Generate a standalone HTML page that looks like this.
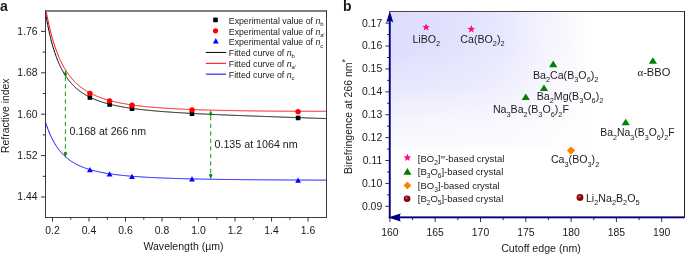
<!DOCTYPE html><html><head><meta charset="utf-8"><style>html,body{margin:0;padding:0;background:#fff;}svg{display:block;will-change:transform;}</style></head><body>
<svg width="685" height="254" viewBox="0 0 685 254" font-family="Liberation Sans, sans-serif">
<defs><linearGradient id="gh" x1="0" y1="0" x2="1" y2="0"><stop offset="0" stop-color="#fff" stop-opacity="1"/><stop offset="0.3" stop-color="#fff" stop-opacity="0.88"/><stop offset="0.56" stop-color="#fff" stop-opacity="0.7"/><stop offset="0.77" stop-color="#fff" stop-opacity="0.37"/><stop offset="0.92" stop-color="#fff" stop-opacity="0.19"/><stop offset="1" stop-color="#fff" stop-opacity="0.07"/></linearGradient><linearGradient id="gv" x1="0" y1="0" x2="0" y2="1"><stop offset="0" stop-color="#fff" stop-opacity="1"/><stop offset="0.28" stop-color="#fff" stop-opacity="0.95"/><stop offset="0.4" stop-color="#fff" stop-opacity="0.82"/><stop offset="0.54" stop-color="#fff" stop-opacity="0.7"/><stop offset="0.69" stop-color="#fff" stop-opacity="0.45"/><stop offset="0.79" stop-color="#fff" stop-opacity="0.3"/><stop offset="0.95" stop-color="#fff" stop-opacity="0.18"/><stop offset="1" stop-color="#fff" stop-opacity="0.12"/></linearGradient><mask id="mh" maskUnits="userSpaceOnUse" x="385" y="8" width="210" height="150"><rect x="390" y="12" width="195.5" height="136.5" fill="url(#gh)"/></mask><mask id="mv" maskUnits="userSpaceOnUse" x="385" y="8" width="210" height="150"><rect x="390" y="12" width="195.5" height="136.5" fill="url(#gv)"/></mask><radialGradient id="ball" cx="0.5" cy="0.5" r="0.5" fx="0.36" fy="0.33"><stop offset="0" stop-color="#f4d0d0"/><stop offset="0.3" stop-color="#b01010"/><stop offset="0.75" stop-color="#900000"/><stop offset="1" stop-color="#6a0000"/></radialGradient></defs>
<text x="0" y="10.5" font-size="14" font-weight="bold" fill="#1c1a1a">a</text>
<clipPath id="ca"><rect x="45" y="11" width="282" height="207"/></clipPath>
<path d="M44.29,4.94 L44.76,8.08 L45.24,11.08 L45.71,13.97 L46.18,16.75 L46.66,19.41 L47.13,21.98 L47.60,24.44 L48.08,26.82 L48.55,29.11 L49.03,31.31 L49.50,33.43 L49.97,35.47 L50.45,37.45 L50.92,39.35 L51.40,41.19 L51.87,42.96 L52.34,44.67 L52.82,46.32 L53.29,47.92 L53.77,49.47 L54.24,50.96 L54.71,52.41 L55.19,53.81 L55.66,55.16 L56.13,56.47 L56.61,57.74 L57.08,58.97 L57.56,60.16 L58.03,61.32 L58.50,62.44 L58.98,63.53 L59.45,64.58 L59.93,65.61 L60.40,66.60 L60.87,67.57 L61.35,68.50 L61.82,69.42 L62.30,70.30 L62.77,71.16 L63.24,72.00 L63.72,72.81 L64.19,73.60 L64.66,74.38 L65.14,75.13 L65.61,75.86 L66.09,76.57 L66.56,77.26 L67.03,77.93 L67.51,78.59 L67.98,79.23 L68.46,79.86 L68.93,80.46 L69.40,81.06 L69.88,81.64 L70.35,82.20 L70.83,82.75 L71.30,83.29 L71.77,83.81 L72.25,84.33 L72.72,84.83 L73.20,85.32 L73.67,85.79 L74.14,86.26 L74.62,86.72 L75.09,87.16 L75.56,87.60 L76.04,88.02 L76.51,88.44 L76.99,88.85 L77.46,89.25 L77.93,89.64 L78.41,90.02 L78.88,90.39 L79.36,90.76 L79.83,91.11 L80.30,91.46 L80.78,91.81 L81.25,92.14 L81.73,92.47 L82.20,92.79 L82.67,93.11 L83.15,93.42 L83.62,93.72 L84.09,94.02 L84.57,94.31 L85.04,94.60 L85.52,94.88 L85.99,95.15 L86.46,95.42 L86.94,95.68 L87.41,95.94 L87.89,96.20 L88.36,96.45 L88.83,96.69 L89.31,96.93 L89.78,97.17 L90.26,97.40 L90.73,97.63 L91.20,97.85 L91.68,98.07 L92.15,98.29 L92.62,98.50 L93.10,98.71 L93.57,98.91 L94.05,99.12 L94.52,99.31 L94.99,99.51 L95.47,99.70 L95.94,99.89 L96.42,100.07 L96.89,100.25 L97.36,100.43 L97.84,100.61 L98.31,100.78 L98.79,100.95 L99.26,101.12 L99.73,101.28 L100.21,101.44 L100.68,101.60 L101.16,101.76 L101.63,101.91 L102.10,102.07 L102.58,102.22 L103.05,102.36 L103.52,102.51 L104.00,102.65 L104.47,102.79 L104.95,102.93 L105.42,103.07 L105.89,103.20 L106.37,103.33 L106.84,103.47 L107.32,103.59 L107.79,103.72 L108.26,103.85 L108.74,103.97 L109.21,104.09 L109.69,104.21 L110.16,104.33 L110.63,104.44 L111.11,104.56 L111.58,104.67 L112.05,104.78 L112.53,104.89 L113.00,105.00 L113.48,105.11 L113.95,105.22 L114.42,105.32 L114.90,105.42 L115.37,105.52 L115.85,105.62 L116.32,105.72 L116.79,105.82 L117.27,105.92 L117.74,106.01 L118.22,106.11 L118.69,106.20 L119.16,106.29 L119.64,106.38 L120.11,106.47 L120.58,106.56 L121.06,106.64 L121.53,106.73 L122.01,106.81 L122.48,106.90 L122.95,106.98 L123.43,107.06 L123.90,107.14 L124.38,107.22 L124.85,107.30 L125.32,107.38 L125.80,107.46 L126.27,107.53 L126.75,107.61 L127.22,107.68 L127.69,107.76 L128.17,107.83 L128.64,107.90 L129.12,107.97 L129.59,108.04 L130.06,108.11 L130.54,108.18 L131.01,108.25 L131.48,108.32 L131.96,108.38 L132.43,108.45 L132.91,108.51 L133.38,108.58 L133.85,108.64 L134.33,108.71 L134.80,108.77 L135.28,108.83 L135.75,108.89 L136.22,108.95 L136.70,109.01 L137.17,109.07 L137.65,109.13 L138.12,109.19 L138.59,109.24 L139.07,109.30 L139.54,109.36 L140.01,109.41 L140.49,109.47 L140.96,109.52 L141.44,109.58 L141.91,109.63 L142.38,109.68 L142.86,109.74 L143.33,109.79 L143.81,109.84 L144.28,109.89 L144.75,109.94 L145.23,109.99 L145.70,110.04 L146.18,110.09 L146.65,110.14 L147.12,110.19 L147.60,110.23 L148.07,110.28 L148.54,110.33 L149.02,110.38 L149.49,110.42 L149.97,110.47 L150.44,110.51 L150.91,110.56 L151.39,110.60 L151.86,110.65 L152.34,110.69 L152.81,110.73 L153.28,110.78 L153.76,110.82 L154.23,110.86 L154.71,110.90 L155.18,110.95 L155.65,110.99 L156.13,111.03 L156.60,111.07 L157.08,111.11 L157.55,111.15 L158.02,111.19 L158.50,111.23 L158.97,111.27 L159.44,111.31 L159.92,111.35 L160.39,111.38 L160.87,111.42 L161.34,111.46 L161.81,111.50 L162.29,111.53 L162.76,111.57 L163.24,111.61 L163.71,111.64 L164.18,111.68 L164.66,111.72 L165.13,111.75 L165.61,111.79 L166.08,111.82 L166.55,111.86 L167.03,111.89 L167.50,111.92 L167.97,111.96 L168.45,111.99 L168.92,112.03 L169.40,112.06 L169.87,112.09 L170.34,112.12 L170.82,112.16 L171.29,112.19 L171.77,112.22 L172.24,112.25 L172.71,112.29 L173.19,112.32 L173.66,112.35 L174.14,112.38 L174.61,112.41 L175.08,112.44 L175.56,112.47 L176.03,112.50 L176.50,112.53 L176.98,112.56 L177.45,112.59 L177.93,112.62 L178.40,112.65 L178.87,112.68 L179.35,112.71 L179.82,112.74 L180.30,112.77 L180.77,112.80 L181.24,112.83 L181.72,112.85 L182.19,112.88 L182.67,112.91 L183.14,112.94 L183.61,112.97 L184.09,112.99 L184.56,113.02 L185.04,113.05 L185.51,113.07 L185.98,113.10 L186.46,113.13 L186.93,113.16 L187.40,113.18 L187.88,113.21 L188.35,113.23 L188.83,113.26 L189.30,113.29 L189.77,113.31 L190.25,113.34 L190.72,113.36 L191.20,113.39 L191.67,113.41 L192.14,113.44 L192.62,113.46 L193.09,113.49 L193.57,113.51 L194.04,113.54 L194.51,113.56 L194.99,113.59 L195.46,113.61 L195.93,113.64 L196.41,113.66 L196.88,113.69 L197.36,113.71 L197.83,113.73 L198.30,113.76 L198.78,113.78 L199.25,113.80 L199.73,113.83 L200.20,113.85 L200.67,113.87 L201.15,113.90 L201.62,113.92 L202.10,113.94 L202.57,113.97 L203.04,113.99 L203.52,114.01 L203.99,114.03 L204.46,114.06 L204.94,114.08 L205.41,114.10 L205.89,114.12 L206.36,114.15 L206.83,114.17 L207.31,114.19 L207.78,114.21 L208.26,114.23 L208.73,114.26 L209.20,114.28 L209.68,114.30 L210.15,114.32 L210.63,114.34 L211.10,114.36 L211.57,114.38 L212.05,114.41 L212.52,114.43 L213.00,114.45 L213.47,114.47 L213.94,114.49 L214.42,114.51 L214.89,114.53 L215.36,114.55 L215.84,114.57 L216.31,114.59 L216.79,114.61 L217.26,114.63 L217.73,114.65 L218.21,114.68 L218.68,114.70 L219.16,114.72 L219.63,114.74 L220.10,114.76 L220.58,114.78 L221.05,114.80 L221.53,114.82 L222.00,114.84 L222.47,114.86 L222.95,114.88 L223.42,114.89 L223.89,114.91 L224.37,114.93 L224.84,114.95 L225.32,114.97 L225.79,114.99 L226.26,115.01 L226.74,115.03 L227.21,115.05 L227.69,115.07 L228.16,115.09 L228.63,115.11 L229.11,115.13 L229.58,115.15 L230.06,115.17 L230.53,115.18 L231.00,115.20 L231.48,115.22 L231.95,115.24 L232.42,115.26 L232.90,115.28 L233.37,115.30 L233.85,115.32 L234.32,115.33 L234.79,115.35 L235.27,115.37 L235.74,115.39 L236.22,115.41 L236.69,115.43 L237.16,115.45 L237.64,115.46 L238.11,115.48 L238.59,115.50 L239.06,115.52 L239.53,115.54 L240.01,115.56 L240.48,115.57 L240.96,115.59 L241.43,115.61 L241.90,115.63 L242.38,115.65 L242.85,115.66 L243.32,115.68 L243.80,115.70 L244.27,115.72 L244.75,115.73 L245.22,115.75 L245.69,115.77 L246.17,115.79 L246.64,115.81 L247.12,115.82 L247.59,115.84 L248.06,115.86 L248.54,115.88 L249.01,115.89 L249.49,115.91 L249.96,115.93 L250.43,115.95 L250.91,115.96 L251.38,115.98 L251.85,116.00 L252.33,116.02 L252.80,116.03 L253.28,116.05 L253.75,116.07 L254.22,116.09 L254.70,116.10 L255.17,116.12 L255.65,116.14 L256.12,116.16 L256.59,116.17 L257.07,116.19 L257.54,116.21 L258.02,116.22 L258.49,116.24 L258.96,116.26 L259.44,116.28 L259.91,116.29 L260.39,116.31 L260.86,116.33 L261.33,116.34 L261.81,116.36 L262.28,116.38 L262.75,116.39 L263.23,116.41 L263.70,116.43 L264.18,116.45 L264.65,116.46 L265.12,116.48 L265.60,116.50 L266.07,116.51 L266.55,116.53 L267.02,116.55 L267.49,116.56 L267.97,116.58 L268.44,116.60 L268.92,116.61 L269.39,116.63 L269.86,116.65 L270.34,116.66 L270.81,116.68 L271.28,116.70 L271.76,116.71 L272.23,116.73 L272.71,116.75 L273.18,116.76 L273.65,116.78 L274.13,116.80 L274.60,116.81 L275.08,116.83 L275.55,116.85 L276.02,116.86 L276.50,116.88 L276.97,116.90 L277.45,116.91 L277.92,116.93 L278.39,116.95 L278.87,116.96 L279.34,116.98 L279.81,117.00 L280.29,117.01 L280.76,117.03 L281.24,117.05 L281.71,117.06 L282.18,117.08 L282.66,117.10 L283.13,117.11 L283.61,117.13 L284.08,117.15 L284.55,117.16 L285.03,117.18 L285.50,117.19 L285.98,117.21 L286.45,117.23 L286.92,117.24 L287.40,117.26 L287.87,117.28 L288.35,117.29 L288.82,117.31 L289.29,117.33 L289.77,117.34 L290.24,117.36 L290.71,117.38 L291.19,117.39 L291.66,117.41 L292.14,117.42 L292.61,117.44 L293.08,117.46 L293.56,117.47 L294.03,117.49 L294.51,117.51 L294.98,117.52 L295.45,117.54 L295.93,117.56 L296.40,117.57 L296.88,117.59 L297.35,117.60 L297.82,117.62 L298.30,117.64 L298.77,117.65 L299.24,117.67 L299.72,117.69 L300.19,117.70 L300.67,117.72 L301.14,117.74 L301.61,117.75 L302.09,117.77 L302.56,117.78 L303.04,117.80 L303.51,117.82 L303.98,117.83 L304.46,117.85 L304.93,117.87 L305.41,117.88 L305.88,117.90 L306.35,117.92 L306.83,117.93 L307.30,117.95 L307.77,117.96 L308.25,117.98 L308.72,118.00 L309.20,118.01 L309.67,118.03 L310.14,118.05 L310.62,118.06 L311.09,118.08 L311.57,118.10 L312.04,118.11 L312.51,118.13 L312.99,118.14 L313.46,118.16 L313.94,118.18 L314.41,118.19 L314.88,118.21 L315.36,118.23 L315.83,118.24 L316.31,118.26 L316.78,118.28 L317.25,118.29 L317.73,118.31 L318.20,118.33 L318.67,118.34 L319.15,118.36 L319.62,118.37 L320.10,118.39 L320.57,118.41 L321.04,118.42 L321.52,118.44 L321.99,118.46 L322.47,118.47 L322.94,118.49 L323.41,118.51 L323.89,118.52 L324.36,118.54 L324.84,118.56 L325.31,118.57 L325.78,118.59 L326.26,118.60 L326.73,118.62 L327.20,118.64 L327.68,118.65 L328.15,118.67" fill="none" stroke="#000" stroke-width="1" clip-path="url(#ca)"/>
<path d="M44.29,0.31 L44.76,3.19 L45.24,5.98 L45.71,8.67 L46.18,11.27 L46.66,13.78 L47.13,16.21 L47.60,18.55 L48.08,20.82 L48.55,23.01 L49.03,25.13 L49.50,27.19 L49.97,29.17 L50.45,31.10 L50.92,32.96 L51.40,34.77 L51.87,36.51 L52.34,38.21 L52.82,39.85 L53.29,41.44 L53.77,42.98 L54.24,44.48 L54.71,45.93 L55.19,47.34 L55.66,48.71 L56.13,50.03 L56.61,51.32 L57.08,52.57 L57.56,53.79 L58.03,54.97 L58.50,56.12 L58.98,57.24 L59.45,58.32 L59.93,59.38 L60.40,60.41 L60.87,61.41 L61.35,62.38 L61.82,63.32 L62.30,64.25 L62.77,65.14 L63.24,66.02 L63.72,66.87 L64.19,67.70 L64.66,68.50 L65.14,69.29 L65.61,70.06 L66.09,70.81 L66.56,71.54 L67.03,72.25 L67.51,72.94 L67.98,73.62 L68.46,74.28 L68.93,74.93 L69.40,75.56 L69.88,76.17 L70.35,76.77 L70.83,77.36 L71.30,77.93 L71.77,78.49 L72.25,79.04 L72.72,79.58 L73.20,80.10 L73.67,80.61 L74.14,81.11 L74.62,81.60 L75.09,82.08 L75.56,82.54 L76.04,83.00 L76.51,83.45 L76.99,83.89 L77.46,84.32 L77.93,84.74 L78.41,85.15 L78.88,85.55 L79.36,85.94 L79.83,86.33 L80.30,86.71 L80.78,87.08 L81.25,87.44 L81.73,87.79 L82.20,88.14 L82.67,88.48 L83.15,88.82 L83.62,89.15 L84.09,89.47 L84.57,89.78 L85.04,90.09 L85.52,90.40 L85.99,90.70 L86.46,90.99 L86.94,91.27 L87.41,91.56 L87.89,91.83 L88.36,92.10 L88.83,92.37 L89.31,92.63 L89.78,92.89 L90.26,93.14 L90.73,93.38 L91.20,93.63 L91.68,93.87 L92.15,94.10 L92.62,94.33 L93.10,94.56 L93.57,94.78 L94.05,95.00 L94.52,95.21 L94.99,95.42 L95.47,95.63 L95.94,95.83 L96.42,96.03 L96.89,96.23 L97.36,96.42 L97.84,96.61 L98.31,96.80 L98.79,96.99 L99.26,97.17 L99.73,97.34 L100.21,97.52 L100.68,97.69 L101.16,97.86 L101.63,98.03 L102.10,98.19 L102.58,98.36 L103.05,98.51 L103.52,98.67 L104.00,98.83 L104.47,98.98 L104.95,99.13 L105.42,99.27 L105.89,99.42 L106.37,99.56 L106.84,99.70 L107.32,99.84 L107.79,99.98 L108.26,100.11 L108.74,100.24 L109.21,100.37 L109.69,100.50 L110.16,100.63 L110.63,100.75 L111.11,100.88 L111.58,101.00 L112.05,101.12 L112.53,101.24 L113.00,101.35 L113.48,101.47 L113.95,101.58 L114.42,101.69 L114.90,101.80 L115.37,101.91 L115.85,102.01 L116.32,102.12 L116.79,102.22 L117.27,102.32 L117.74,102.43 L118.22,102.52 L118.69,102.62 L119.16,102.72 L119.64,102.82 L120.11,102.91 L120.58,103.00 L121.06,103.09 L121.53,103.18 L122.01,103.27 L122.48,103.36 L122.95,103.45 L123.43,103.53 L123.90,103.62 L124.38,103.70 L124.85,103.78 L125.32,103.87 L125.80,103.95 L126.27,104.03 L126.75,104.10 L127.22,104.18 L127.69,104.26 L128.17,104.33 L128.64,104.41 L129.12,104.48 L129.59,104.55 L130.06,104.63 L130.54,104.70 L131.01,104.77 L131.48,104.83 L131.96,104.90 L132.43,104.97 L132.91,105.04 L133.38,105.10 L133.85,105.17 L134.33,105.23 L134.80,105.30 L135.28,105.36 L135.75,105.42 L136.22,105.48 L136.70,105.54 L137.17,105.60 L137.65,105.66 L138.12,105.72 L138.59,105.78 L139.07,105.83 L139.54,105.89 L140.01,105.95 L140.49,106.00 L140.96,106.05 L141.44,106.11 L141.91,106.16 L142.38,106.21 L142.86,106.27 L143.33,106.32 L143.81,106.37 L144.28,106.42 L144.75,106.47 L145.23,106.52 L145.70,106.57 L146.18,106.61 L146.65,106.66 L147.12,106.71 L147.60,106.75 L148.07,106.80 L148.54,106.85 L149.02,106.89 L149.49,106.94 L149.97,106.98 L150.44,107.02 L150.91,107.07 L151.39,107.11 L151.86,107.15 L152.34,107.19 L152.81,107.23 L153.28,107.27 L153.76,107.31 L154.23,107.35 L154.71,107.39 L155.18,107.43 L155.65,107.47 L156.13,107.51 L156.60,107.55 L157.08,107.58 L157.55,107.62 L158.02,107.66 L158.50,107.69 L158.97,107.73 L159.44,107.77 L159.92,107.80 L160.39,107.84 L160.87,107.87 L161.34,107.90 L161.81,107.94 L162.29,107.97 L162.76,108.00 L163.24,108.04 L163.71,108.07 L164.18,108.10 L164.66,108.13 L165.13,108.17 L165.61,108.20 L166.08,108.23 L166.55,108.26 L167.03,108.29 L167.50,108.32 L167.97,108.35 L168.45,108.38 L168.92,108.41 L169.40,108.43 L169.87,108.46 L170.34,108.49 L170.82,108.52 L171.29,108.55 L171.77,108.57 L172.24,108.60 L172.71,108.63 L173.19,108.65 L173.66,108.68 L174.14,108.71 L174.61,108.73 L175.08,108.76 L175.56,108.78 L176.03,108.81 L176.50,108.83 L176.98,108.86 L177.45,108.88 L177.93,108.91 L178.40,108.93 L178.87,108.95 L179.35,108.98 L179.82,109.00 L180.30,109.02 L180.77,109.05 L181.24,109.07 L181.72,109.09 L182.19,109.11 L182.67,109.14 L183.14,109.16 L183.61,109.18 L184.09,109.20 L184.56,109.22 L185.04,109.24 L185.51,109.26 L185.98,109.28 L186.46,109.30 L186.93,109.32 L187.40,109.34 L187.88,109.36 L188.35,109.38 L188.83,109.40 L189.30,109.42 L189.77,109.44 L190.25,109.46 L190.72,109.48 L191.20,109.50 L191.67,109.52 L192.14,109.53 L192.62,109.55 L193.09,109.57 L193.57,109.59 L194.04,109.61 L194.51,109.62 L194.99,109.64 L195.46,109.66 L195.93,109.67 L196.41,109.69 L196.88,109.71 L197.36,109.72 L197.83,109.74 L198.30,109.76 L198.78,109.77 L199.25,109.79 L199.73,109.80 L200.20,109.82 L200.67,109.84 L201.15,109.85 L201.62,109.87 L202.10,109.88 L202.57,109.90 L203.04,109.91 L203.52,109.93 L203.99,109.94 L204.46,109.95 L204.94,109.97 L205.41,109.98 L205.89,110.00 L206.36,110.01 L206.83,110.02 L207.31,110.04 L207.78,110.05 L208.26,110.06 L208.73,110.08 L209.20,110.09 L209.68,110.10 L210.15,110.12 L210.63,110.13 L211.10,110.14 L211.57,110.16 L212.05,110.17 L212.52,110.18 L213.00,110.19 L213.47,110.20 L213.94,110.22 L214.42,110.23 L214.89,110.24 L215.36,110.25 L215.84,110.26 L216.31,110.28 L216.79,110.29 L217.26,110.30 L217.73,110.31 L218.21,110.32 L218.68,110.33 L219.16,110.34 L219.63,110.35 L220.10,110.36 L220.58,110.37 L221.05,110.39 L221.53,110.40 L222.00,110.41 L222.47,110.42 L222.95,110.43 L223.42,110.44 L223.89,110.45 L224.37,110.46 L224.84,110.47 L225.32,110.48 L225.79,110.49 L226.26,110.50 L226.74,110.50 L227.21,110.51 L227.69,110.52 L228.16,110.53 L228.63,110.54 L229.11,110.55 L229.58,110.56 L230.06,110.57 L230.53,110.58 L231.00,110.59 L231.48,110.60 L231.95,110.60 L232.42,110.61 L232.90,110.62 L233.37,110.63 L233.85,110.64 L234.32,110.65 L234.79,110.65 L235.27,110.66 L235.74,110.67 L236.22,110.68 L236.69,110.69 L237.16,110.69 L237.64,110.70 L238.11,110.71 L238.59,110.72 L239.06,110.72 L239.53,110.73 L240.01,110.74 L240.48,110.75 L240.96,110.75 L241.43,110.76 L241.90,110.77 L242.38,110.77 L242.85,110.78 L243.32,110.79 L243.80,110.80 L244.27,110.80 L244.75,110.81 L245.22,110.82 L245.69,110.82 L246.17,110.83 L246.64,110.83 L247.12,110.84 L247.59,110.85 L248.06,110.85 L248.54,110.86 L249.01,110.87 L249.49,110.87 L249.96,110.88 L250.43,110.88 L250.91,110.89 L251.38,110.90 L251.85,110.90 L252.33,110.91 L252.80,110.91 L253.28,110.92 L253.75,110.92 L254.22,110.93 L254.70,110.94 L255.17,110.94 L255.65,110.95 L256.12,110.95 L256.59,110.96 L257.07,110.96 L257.54,110.97 L258.02,110.97 L258.49,110.98 L258.96,110.98 L259.44,110.99 L259.91,110.99 L260.39,111.00 L260.86,111.00 L261.33,111.01 L261.81,111.01 L262.28,111.02 L262.75,111.02 L263.23,111.03 L263.70,111.03 L264.18,111.03 L264.65,111.04 L265.12,111.04 L265.60,111.05 L266.07,111.05 L266.55,111.06 L267.02,111.06 L267.49,111.06 L267.97,111.07 L268.44,111.07 L268.92,111.08 L269.39,111.08 L269.86,111.09 L270.34,111.09 L270.81,111.09 L271.28,111.10 L271.76,111.10 L272.23,111.10 L272.71,111.11 L273.18,111.11 L273.65,111.12 L274.13,111.12 L274.60,111.12 L275.08,111.13 L275.55,111.13 L276.02,111.13 L276.50,111.14 L276.97,111.14 L277.45,111.14 L277.92,111.15 L278.39,111.15 L278.87,111.15 L279.34,111.16 L279.81,111.16 L280.29,111.16 L280.76,111.16 L281.24,111.17 L281.71,111.17 L282.18,111.17 L282.66,111.18 L283.13,111.18 L283.61,111.18 L284.08,111.18 L284.55,111.19 L285.03,111.19 L285.50,111.19 L285.98,111.20 L286.45,111.20 L286.92,111.20 L287.40,111.20 L287.87,111.21 L288.35,111.21 L288.82,111.21 L289.29,111.21 L289.77,111.22 L290.24,111.22 L290.71,111.22 L291.19,111.22 L291.66,111.22 L292.14,111.23 L292.61,111.23 L293.08,111.23 L293.56,111.23 L294.03,111.24 L294.51,111.24 L294.98,111.24 L295.45,111.24 L295.93,111.24 L296.40,111.24 L296.88,111.25 L297.35,111.25 L297.82,111.25 L298.30,111.25 L298.77,111.25 L299.24,111.26 L299.72,111.26 L300.19,111.26 L300.67,111.26 L301.14,111.26 L301.61,111.26 L302.09,111.27 L302.56,111.27 L303.04,111.27 L303.51,111.27 L303.98,111.27 L304.46,111.27 L304.93,111.27 L305.41,111.28 L305.88,111.28 L306.35,111.28 L306.83,111.28 L307.30,111.28 L307.77,111.28 L308.25,111.28 L308.72,111.28 L309.20,111.29 L309.67,111.29 L310.14,111.29 L310.62,111.29 L311.09,111.29 L311.57,111.29 L312.04,111.29 L312.51,111.29 L312.99,111.29 L313.46,111.29 L313.94,111.30 L314.41,111.30 L314.88,111.30 L315.36,111.30 L315.83,111.30 L316.31,111.30 L316.78,111.30 L317.25,111.30 L317.73,111.30 L318.20,111.30 L318.67,111.30 L319.15,111.30 L319.62,111.30 L320.10,111.30 L320.57,111.30 L321.04,111.31 L321.52,111.31 L321.99,111.31 L322.47,111.31 L322.94,111.31 L323.41,111.31 L323.89,111.31 L324.36,111.31 L324.84,111.31 L325.31,111.31 L325.78,111.31 L326.26,111.31 L326.73,111.31 L327.20,111.31 L327.68,111.31 L328.15,111.31" fill="none" stroke="#ff0000" stroke-width="1" clip-path="url(#ca)"/>
<path d="M44.29,118.16 L44.76,119.76 L45.24,121.31 L45.71,122.80 L46.18,124.24 L46.66,125.63 L47.13,126.98 L47.60,128.28 L48.08,129.54 L48.55,130.76 L49.03,131.94 L49.50,133.07 L49.97,134.18 L50.45,135.25 L50.92,136.28 L51.40,137.28 L51.87,138.25 L52.34,139.19 L52.82,140.10 L53.29,140.99 L53.77,141.84 L54.24,142.68 L54.71,143.48 L55.19,144.26 L55.66,145.02 L56.13,145.76 L56.61,146.48 L57.08,147.17 L57.56,147.85 L58.03,148.50 L58.50,149.14 L58.98,149.76 L59.45,150.37 L59.93,150.95 L60.40,151.52 L60.87,152.08 L61.35,152.62 L61.82,153.14 L62.30,153.65 L62.77,154.15 L63.24,154.64 L63.72,155.11 L64.19,155.57 L64.66,156.02 L65.14,156.46 L65.61,156.88 L66.09,157.30 L66.56,157.70 L67.03,158.10 L67.51,158.49 L67.98,158.86 L68.46,159.23 L68.93,159.59 L69.40,159.94 L69.88,160.28 L70.35,160.61 L70.83,160.94 L71.30,161.26 L71.77,161.57 L72.25,161.87 L72.72,162.17 L73.20,162.46 L73.67,162.74 L74.14,163.02 L74.62,163.29 L75.09,163.56 L75.56,163.82 L76.04,164.07 L76.51,164.32 L76.99,164.56 L77.46,164.80 L77.93,165.04 L78.41,165.26 L78.88,165.49 L79.36,165.71 L79.83,165.92 L80.30,166.13 L80.78,166.34 L81.25,166.54 L81.73,166.74 L82.20,166.93 L82.67,167.12 L83.15,167.30 L83.62,167.49 L84.09,167.67 L84.57,167.84 L85.04,168.01 L85.52,168.18 L85.99,168.35 L86.46,168.51 L86.94,168.67 L87.41,168.82 L87.89,168.98 L88.36,169.13 L88.83,169.28 L89.31,169.42 L89.78,169.56 L90.26,169.70 L90.73,169.84 L91.20,169.98 L91.68,170.11 L92.15,170.24 L92.62,170.37 L93.10,170.49 L93.57,170.62 L94.05,170.74 L94.52,170.86 L94.99,170.97 L95.47,171.09 L95.94,171.20 L96.42,171.31 L96.89,171.42 L97.36,171.53 L97.84,171.64 L98.31,171.74 L98.79,171.84 L99.26,171.94 L99.73,172.04 L100.21,172.14 L100.68,172.24 L101.16,172.33 L101.63,172.42 L102.10,172.52 L102.58,172.61 L103.05,172.69 L103.52,172.78 L104.00,172.87 L104.47,172.95 L104.95,173.04 L105.42,173.12 L105.89,173.20 L106.37,173.28 L106.84,173.36 L107.32,173.43 L107.79,173.51 L108.26,173.58 L108.74,173.66 L109.21,173.73 L109.69,173.80 L110.16,173.87 L110.63,173.94 L111.11,174.01 L111.58,174.08 L112.05,174.14 L112.53,174.21 L113.00,174.27 L113.48,174.34 L113.95,174.40 L114.42,174.46 L114.90,174.52 L115.37,174.58 L115.85,174.64 L116.32,174.70 L116.79,174.76 L117.27,174.82 L117.74,174.87 L118.22,174.93 L118.69,174.98 L119.16,175.04 L119.64,175.09 L120.11,175.14 L120.58,175.20 L121.06,175.25 L121.53,175.30 L122.01,175.35 L122.48,175.40 L122.95,175.44 L123.43,175.49 L123.90,175.54 L124.38,175.59 L124.85,175.63 L125.32,175.68 L125.80,175.72 L126.27,175.77 L126.75,175.81 L127.22,175.85 L127.69,175.90 L128.17,175.94 L128.64,175.98 L129.12,176.02 L129.59,176.06 L130.06,176.10 L130.54,176.14 L131.01,176.18 L131.48,176.22 L131.96,176.26 L132.43,176.30 L132.91,176.33 L133.38,176.37 L133.85,176.41 L134.33,176.44 L134.80,176.48 L135.28,176.51 L135.75,176.55 L136.22,176.58 L136.70,176.62 L137.17,176.65 L137.65,176.68 L138.12,176.72 L138.59,176.75 L139.07,176.78 L139.54,176.81 L140.01,176.84 L140.49,176.88 L140.96,176.91 L141.44,176.94 L141.91,176.97 L142.38,177.00 L142.86,177.02 L143.33,177.05 L143.81,177.08 L144.28,177.11 L144.75,177.14 L145.23,177.17 L145.70,177.19 L146.18,177.22 L146.65,177.25 L147.12,177.27 L147.60,177.30 L148.07,177.33 L148.54,177.35 L149.02,177.38 L149.49,177.40 L149.97,177.43 L150.44,177.45 L150.91,177.48 L151.39,177.50 L151.86,177.52 L152.34,177.55 L152.81,177.57 L153.28,177.59 L153.76,177.62 L154.23,177.64 L154.71,177.66 L155.18,177.68 L155.65,177.71 L156.13,177.73 L156.60,177.75 L157.08,177.77 L157.55,177.79 L158.02,177.81 L158.50,177.83 L158.97,177.85 L159.44,177.87 L159.92,177.89 L160.39,177.91 L160.87,177.93 L161.34,177.95 L161.81,177.97 L162.29,177.99 L162.76,178.01 L163.24,178.03 L163.71,178.05 L164.18,178.06 L164.66,178.08 L165.13,178.10 L165.61,178.12 L166.08,178.14 L166.55,178.15 L167.03,178.17 L167.50,178.19 L167.97,178.21 L168.45,178.22 L168.92,178.24 L169.40,178.25 L169.87,178.27 L170.34,178.29 L170.82,178.30 L171.29,178.32 L171.77,178.34 L172.24,178.35 L172.71,178.37 L173.19,178.38 L173.66,178.40 L174.14,178.41 L174.61,178.43 L175.08,178.44 L175.56,178.46 L176.03,178.47 L176.50,178.48 L176.98,178.50 L177.45,178.51 L177.93,178.53 L178.40,178.54 L178.87,178.55 L179.35,178.57 L179.82,178.58 L180.30,178.59 L180.77,178.61 L181.24,178.62 L181.72,178.63 L182.19,178.65 L182.67,178.66 L183.14,178.67 L183.61,178.68 L184.09,178.70 L184.56,178.71 L185.04,178.72 L185.51,178.73 L185.98,178.75 L186.46,178.76 L186.93,178.77 L187.40,178.78 L187.88,178.79 L188.35,178.80 L188.83,178.82 L189.30,178.83 L189.77,178.84 L190.25,178.85 L190.72,178.86 L191.20,178.87 L191.67,178.88 L192.14,178.89 L192.62,178.90 L193.09,178.91 L193.57,178.92 L194.04,178.93 L194.51,178.94 L194.99,178.96 L195.46,178.97 L195.93,178.98 L196.41,178.99 L196.88,179.00 L197.36,179.00 L197.83,179.01 L198.30,179.02 L198.78,179.03 L199.25,179.04 L199.73,179.05 L200.20,179.06 L200.67,179.07 L201.15,179.08 L201.62,179.09 L202.10,179.10 L202.57,179.11 L203.04,179.12 L203.52,179.13 L203.99,179.13 L204.46,179.14 L204.94,179.15 L205.41,179.16 L205.89,179.17 L206.36,179.18 L206.83,179.18 L207.31,179.19 L207.78,179.20 L208.26,179.21 L208.73,179.22 L209.20,179.23 L209.68,179.23 L210.15,179.24 L210.63,179.25 L211.10,179.26 L211.57,179.26 L212.05,179.27 L212.52,179.28 L213.00,179.29 L213.47,179.29 L213.94,179.30 L214.42,179.31 L214.89,179.32 L215.36,179.32 L215.84,179.33 L216.31,179.34 L216.79,179.35 L217.26,179.35 L217.73,179.36 L218.21,179.37 L218.68,179.37 L219.16,179.38 L219.63,179.39 L220.10,179.39 L220.58,179.40 L221.05,179.41 L221.53,179.41 L222.00,179.42 L222.47,179.43 L222.95,179.43 L223.42,179.44 L223.89,179.44 L224.37,179.45 L224.84,179.46 L225.32,179.46 L225.79,179.47 L226.26,179.48 L226.74,179.48 L227.21,179.49 L227.69,179.49 L228.16,179.50 L228.63,179.51 L229.11,179.51 L229.58,179.52 L230.06,179.52 L230.53,179.53 L231.00,179.53 L231.48,179.54 L231.95,179.54 L232.42,179.55 L232.90,179.56 L233.37,179.56 L233.85,179.57 L234.32,179.57 L234.79,179.58 L235.27,179.58 L235.74,179.59 L236.22,179.59 L236.69,179.60 L237.16,179.60 L237.64,179.61 L238.11,179.61 L238.59,179.62 L239.06,179.62 L239.53,179.63 L240.01,179.63 L240.48,179.64 L240.96,179.64 L241.43,179.65 L241.90,179.65 L242.38,179.66 L242.85,179.66 L243.32,179.67 L243.80,179.67 L244.27,179.68 L244.75,179.68 L245.22,179.68 L245.69,179.69 L246.17,179.69 L246.64,179.70 L247.12,179.70 L247.59,179.71 L248.06,179.71 L248.54,179.71 L249.01,179.72 L249.49,179.72 L249.96,179.73 L250.43,179.73 L250.91,179.74 L251.38,179.74 L251.85,179.74 L252.33,179.75 L252.80,179.75 L253.28,179.76 L253.75,179.76 L254.22,179.76 L254.70,179.77 L255.17,179.77 L255.65,179.78 L256.12,179.78 L256.59,179.78 L257.07,179.79 L257.54,179.79 L258.02,179.79 L258.49,179.80 L258.96,179.80 L259.44,179.81 L259.91,179.81 L260.39,179.81 L260.86,179.82 L261.33,179.82 L261.81,179.82 L262.28,179.83 L262.75,179.83 L263.23,179.83 L263.70,179.84 L264.18,179.84 L264.65,179.84 L265.12,179.85 L265.60,179.85 L266.07,179.85 L266.55,179.86 L267.02,179.86 L267.49,179.86 L267.97,179.87 L268.44,179.87 L268.92,179.87 L269.39,179.88 L269.86,179.88 L270.34,179.88 L270.81,179.89 L271.28,179.89 L271.76,179.89 L272.23,179.89 L272.71,179.90 L273.18,179.90 L273.65,179.90 L274.13,179.91 L274.60,179.91 L275.08,179.91 L275.55,179.91 L276.02,179.92 L276.50,179.92 L276.97,179.92 L277.45,179.93 L277.92,179.93 L278.39,179.93 L278.87,179.93 L279.34,179.94 L279.81,179.94 L280.29,179.94 L280.76,179.94 L281.24,179.95 L281.71,179.95 L282.18,179.95 L282.66,179.95 L283.13,179.96 L283.61,179.96 L284.08,179.96 L284.55,179.96 L285.03,179.97 L285.50,179.97 L285.98,179.97 L286.45,179.97 L286.92,179.98 L287.40,179.98 L287.87,179.98 L288.35,179.98 L288.82,179.99 L289.29,179.99 L289.77,179.99 L290.24,179.99 L290.71,180.00 L291.19,180.00 L291.66,180.00 L292.14,180.00 L292.61,180.00 L293.08,180.01 L293.56,180.01 L294.03,180.01 L294.51,180.01 L294.98,180.01 L295.45,180.02 L295.93,180.02 L296.40,180.02 L296.88,180.02 L297.35,180.03 L297.82,180.03 L298.30,180.03 L298.77,180.03 L299.24,180.03 L299.72,180.04 L300.19,180.04 L300.67,180.04 L301.14,180.04 L301.61,180.04 L302.09,180.04 L302.56,180.05 L303.04,180.05 L303.51,180.05 L303.98,180.05 L304.46,180.05 L304.93,180.06 L305.41,180.06 L305.88,180.06 L306.35,180.06 L306.83,180.06 L307.30,180.06 L307.77,180.07 L308.25,180.07 L308.72,180.07 L309.20,180.07 L309.67,180.07 L310.14,180.07 L310.62,180.08 L311.09,180.08 L311.57,180.08 L312.04,180.08 L312.51,180.08 L312.99,180.08 L313.46,180.09 L313.94,180.09 L314.41,180.09 L314.88,180.09 L315.36,180.09 L315.83,180.09 L316.31,180.09 L316.78,180.10 L317.25,180.10 L317.73,180.10 L318.20,180.10 L318.67,180.10 L319.15,180.10 L319.62,180.11 L320.10,180.11 L320.57,180.11 L321.04,180.11 L321.52,180.11 L321.99,180.11 L322.47,180.11 L322.94,180.11 L323.41,180.12 L323.89,180.12 L324.36,180.12 L324.84,180.12 L325.31,180.12 L325.78,180.12 L326.26,180.12 L326.73,180.12 L327.20,180.13 L327.68,180.13 L328.15,180.13" fill="none" stroke="#0000ff" stroke-width="1" clip-path="url(#ca)"/>
<rect x="45" y="10" width="282" height="2" fill="#808080"/>
<rect x="45" y="10" width="1" height="208" fill="#3a3a3a"/>
<rect x="326" y="10" width="1" height="208" fill="#3a3a3a"/>
<rect x="45" y="217" width="282" height="1" fill="#3a3a3a"/>
<line x1="41.0" y1="197.00" x2="45.5" y2="197.00" stroke="#333" stroke-width="1"/>
<text x="37.6" y="200.40" font-size="10.4" text-anchor="end" fill="#1c1a1a">1.44</text>
<line x1="42.7" y1="176.30" x2="45.5" y2="176.30" stroke="#333" stroke-width="1"/>
<line x1="41.0" y1="155.60" x2="45.5" y2="155.60" stroke="#333" stroke-width="1"/>
<text x="37.6" y="159.00" font-size="10.4" text-anchor="end" fill="#1c1a1a">1.52</text>
<line x1="42.7" y1="134.90" x2="45.5" y2="134.90" stroke="#333" stroke-width="1"/>
<line x1="41.0" y1="114.20" x2="45.5" y2="114.20" stroke="#333" stroke-width="1"/>
<text x="37.6" y="117.60" font-size="10.4" text-anchor="end" fill="#1c1a1a">1.60</text>
<line x1="42.7" y1="93.50" x2="45.5" y2="93.50" stroke="#333" stroke-width="1"/>
<line x1="41.0" y1="72.80" x2="45.5" y2="72.80" stroke="#333" stroke-width="1"/>
<text x="37.6" y="76.20" font-size="10.4" text-anchor="end" fill="#1c1a1a">1.68</text>
<line x1="42.7" y1="52.10" x2="45.5" y2="52.10" stroke="#333" stroke-width="1"/>
<line x1="41.0" y1="31.40" x2="45.5" y2="31.40" stroke="#333" stroke-width="1"/>
<text x="37.6" y="34.80" font-size="10.4" text-anchor="end" fill="#1c1a1a">1.76</text>
<line x1="52.50" y1="217.5" x2="52.50" y2="221.5" stroke="#333" stroke-width="1"/>
<text x="52.50" y="234.0" font-size="10.4" text-anchor="middle" fill="#1c1a1a">0.2</text>
<line x1="70.76" y1="217.5" x2="70.76" y2="219.7" stroke="#333" stroke-width="1"/>
<line x1="89.01" y1="217.5" x2="89.01" y2="221.5" stroke="#333" stroke-width="1"/>
<text x="89.01" y="234.0" font-size="10.4" text-anchor="middle" fill="#1c1a1a">0.4</text>
<line x1="107.27" y1="217.5" x2="107.27" y2="219.7" stroke="#333" stroke-width="1"/>
<line x1="125.52" y1="217.5" x2="125.52" y2="221.5" stroke="#333" stroke-width="1"/>
<text x="125.52" y="234.0" font-size="10.4" text-anchor="middle" fill="#1c1a1a">0.6</text>
<line x1="143.78" y1="217.5" x2="143.78" y2="219.7" stroke="#333" stroke-width="1"/>
<line x1="162.03" y1="217.5" x2="162.03" y2="221.5" stroke="#333" stroke-width="1"/>
<text x="162.03" y="234.0" font-size="10.4" text-anchor="middle" fill="#1c1a1a">0.8</text>
<line x1="180.29" y1="217.5" x2="180.29" y2="219.7" stroke="#333" stroke-width="1"/>
<line x1="198.54" y1="217.5" x2="198.54" y2="221.5" stroke="#333" stroke-width="1"/>
<text x="198.54" y="234.0" font-size="10.4" text-anchor="middle" fill="#1c1a1a">1.0</text>
<line x1="216.80" y1="217.5" x2="216.80" y2="219.7" stroke="#333" stroke-width="1"/>
<line x1="235.05" y1="217.5" x2="235.05" y2="221.5" stroke="#333" stroke-width="1"/>
<text x="235.05" y="234.0" font-size="10.4" text-anchor="middle" fill="#1c1a1a">1.2</text>
<line x1="253.31" y1="217.5" x2="253.31" y2="219.7" stroke="#333" stroke-width="1"/>
<line x1="271.56" y1="217.5" x2="271.56" y2="221.5" stroke="#333" stroke-width="1"/>
<text x="271.56" y="234.0" font-size="10.4" text-anchor="middle" fill="#1c1a1a">1.4</text>
<line x1="289.82" y1="217.5" x2="289.82" y2="219.7" stroke="#333" stroke-width="1"/>
<line x1="308.07" y1="217.5" x2="308.07" y2="221.5" stroke="#333" stroke-width="1"/>
<text x="308.07" y="234.0" font-size="10.4" text-anchor="middle" fill="#1c1a1a">1.6</text>
<text x="183.5" y="249.8" font-size="10.55" text-anchor="middle" fill="#1c1a1a">Wavelength (µm)</text>
<text transform="translate(8.6,115.7) rotate(-90)" font-size="10.4" text-anchor="middle" fill="#1c1a1a">Refractive index</text>
<rect x="87.60" y="95.23" width="4.6" height="4.6" fill="#000"/>
<circle cx="89.90" cy="93.35" r="2.7" fill="#ff0000"/>
<path d="M89.90,167.00 L92.80,172.30 L87.00,172.30Z" fill="#0000ff"/>
<rect x="107.30" y="102.19" width="4.6" height="4.6" fill="#000"/>
<circle cx="109.60" cy="100.88" r="2.7" fill="#ff0000"/>
<path d="M109.60,171.19 L112.50,176.49 L106.70,176.49Z" fill="#0000ff"/>
<rect x="129.70" y="106.39" width="4.6" height="4.6" fill="#000"/>
<circle cx="132.00" cy="105.31" r="2.7" fill="#ff0000"/>
<path d="M132.00,173.66 L134.90,178.96 L129.10,178.96Z" fill="#0000ff"/>
<rect x="189.70" y="111.43" width="4.6" height="4.6" fill="#000"/>
<circle cx="192.00" cy="109.93" r="2.7" fill="#ff0000"/>
<path d="M192.00,176.29 L194.90,181.59 L189.10,181.59Z" fill="#0000ff"/>
<rect x="295.80" y="115.63" width="4.6" height="4.6" fill="#000"/>
<circle cx="298.10" cy="111.65" r="2.7" fill="#ff0000"/>
<path d="M298.10,177.43 L301.00,182.73 L295.20,182.73Z" fill="#0000ff"/>
<line x1="65.4" y1="76.8" x2="65.4" y2="155.4" stroke="#2ca02c" stroke-width="1.1" stroke-dasharray="4.2,3.32"/><path d="M65.4,70.2 L67.2,74.7 L65.4,76.0 L63.60000000000001,74.7Z" fill="#0a860a"/><path d="M65.4,157.4 L67.2,152.9 L65.4,151.6 L63.60000000000001,152.9Z" fill="#0a860a"/>
<line x1="210.7" y1="116.3" x2="210.7" y2="177.3" stroke="#2ca02c" stroke-width="1.1" stroke-dasharray="4.2,3.30"/><path d="M210.7,110.2 L212.5,114.7 L210.7,116.0 L208.89999999999998,114.7Z" fill="#0a860a"/><path d="M210.7,179.3 L212.5,174.8 L210.7,173.5 L208.89999999999998,174.8Z" fill="#0a860a"/>
<text x="69.5" y="134.7" font-size="10.6" fill="#1c1a1a">0.168 at 266 nm</text>
<text x="214.5" y="147.6" font-size="10.7" fill="#1c1a1a">0.135 at 1064 nm</text>
<rect x="213.2" y="17.60" width="4.6" height="4.6" fill="#000"/>
<circle cx="215.5" cy="30.80" r="2.6" fill="#ff0000"/>
<path d="M215.8,38.0 L218.7,43.5 L212.9,43.5Z" fill="#0000ff"/>
<line x1="205.8" y1="52.45" x2="226.1" y2="52.45" stroke="#000" stroke-width="1"/>
<line x1="205.8" y1="63.30" x2="226.1" y2="63.30" stroke="#ff0000" stroke-width="1"/>
<line x1="205.8" y1="74.15" x2="226.1" y2="74.15" stroke="#0000ff" stroke-width="1"/>
<text x="228.8" y="23.70" font-size="8.75" fill="#1c1a1a">Experimental value of <tspan font-style="italic">n</tspan><tspan font-size="6" dy="2.2">b</tspan></text>
<text x="228.8" y="34.60" font-size="8.75" fill="#1c1a1a">Experimental value of <tspan font-style="italic">n</tspan><tspan font-size="6" dy="2.2">a′</tspan></text>
<text x="228.8" y="45.40" font-size="8.75" fill="#1c1a1a">Experimental value of <tspan font-style="italic">n</tspan><tspan font-size="6" dy="2.2">c</tspan></text>
<text x="228.8" y="56.25" font-size="8.75" fill="#1c1a1a">Fitted curve of <tspan font-style="italic">n</tspan><tspan font-size="6" dy="2.2">b</tspan></text>
<text x="228.8" y="67.10" font-size="8.75" fill="#1c1a1a">Fitted curve of <tspan font-style="italic">n</tspan><tspan font-size="6" dy="2.2">a′</tspan></text>
<text x="228.8" y="77.95" font-size="8.75" fill="#1c1a1a">Fitted curve of <tspan font-style="italic">n</tspan><tspan font-size="6" dy="2.2">c</tspan></text>
<text x="343" y="10.5" font-size="14" font-weight="bold" fill="#1c1a1a">b</text>
<g mask="url(#mv)"><rect x="390" y="12" width="195.5" height="136.5" fill="#dcdcfd" mask="url(#mh)"/></g>
<rect x="389" y="11" width="296" height="1" fill="#444"/>
<rect x="684" y="11" width="1" height="207" fill="#222"/>
<line x1="385.4" y1="206.32" x2="389" y2="206.32" stroke="#333" stroke-width="1"/>
<text x="382.2" y="209.72" font-size="10.4" text-anchor="end" fill="#1c1a1a">0.09</text>
<line x1="387.0" y1="194.87" x2="389" y2="194.87" stroke="#333" stroke-width="1"/>
<line x1="385.4" y1="183.43" x2="389" y2="183.43" stroke="#333" stroke-width="1"/>
<text x="382.2" y="186.83" font-size="10.4" text-anchor="end" fill="#1c1a1a">0.10</text>
<line x1="387.0" y1="171.98" x2="389" y2="171.98" stroke="#333" stroke-width="1"/>
<line x1="385.4" y1="160.53" x2="389" y2="160.53" stroke="#333" stroke-width="1"/>
<text x="382.2" y="163.93" font-size="10.4" text-anchor="end" fill="#1c1a1a">0.11</text>
<line x1="387.0" y1="149.08" x2="389" y2="149.08" stroke="#333" stroke-width="1"/>
<line x1="385.4" y1="137.64" x2="389" y2="137.64" stroke="#333" stroke-width="1"/>
<text x="382.2" y="141.04" font-size="10.4" text-anchor="end" fill="#1c1a1a">0.12</text>
<line x1="387.0" y1="126.19" x2="389" y2="126.19" stroke="#333" stroke-width="1"/>
<line x1="385.4" y1="114.74" x2="389" y2="114.74" stroke="#333" stroke-width="1"/>
<text x="382.2" y="118.14" font-size="10.4" text-anchor="end" fill="#1c1a1a">0.13</text>
<line x1="387.0" y1="103.29" x2="389" y2="103.29" stroke="#333" stroke-width="1"/>
<line x1="385.4" y1="91.84" x2="389" y2="91.84" stroke="#333" stroke-width="1"/>
<text x="382.2" y="95.25" font-size="10.4" text-anchor="end" fill="#1c1a1a">0.14</text>
<line x1="387.0" y1="80.40" x2="389" y2="80.40" stroke="#333" stroke-width="1"/>
<line x1="385.4" y1="68.95" x2="389" y2="68.95" stroke="#333" stroke-width="1"/>
<text x="382.2" y="72.35" font-size="10.4" text-anchor="end" fill="#1c1a1a">0.15</text>
<line x1="387.0" y1="57.50" x2="389" y2="57.50" stroke="#333" stroke-width="1"/>
<line x1="385.4" y1="46.06" x2="389" y2="46.06" stroke="#333" stroke-width="1"/>
<text x="382.2" y="49.46" font-size="10.4" text-anchor="end" fill="#1c1a1a">0.16</text>
<line x1="387.0" y1="34.61" x2="389" y2="34.61" stroke="#333" stroke-width="1"/>
<line x1="385.4" y1="23.16" x2="389" y2="23.16" stroke="#333" stroke-width="1"/>
<text x="382.2" y="26.56" font-size="10.4" text-anchor="end" fill="#1c1a1a">0.17</text>
<line x1="389.90" y1="218" x2="389.90" y2="222.0" stroke="#333" stroke-width="1"/>
<text x="389.90" y="235.5" font-size="10.4" text-anchor="middle" fill="#1c1a1a">160</text>
<line x1="412.55" y1="218" x2="412.55" y2="220.2" stroke="#333" stroke-width="1"/>
<line x1="435.20" y1="218" x2="435.20" y2="222.0" stroke="#333" stroke-width="1"/>
<text x="435.20" y="235.5" font-size="10.4" text-anchor="middle" fill="#1c1a1a">165</text>
<line x1="457.85" y1="218" x2="457.85" y2="220.2" stroke="#333" stroke-width="1"/>
<line x1="480.50" y1="218" x2="480.50" y2="222.0" stroke="#333" stroke-width="1"/>
<text x="480.50" y="235.5" font-size="10.4" text-anchor="middle" fill="#1c1a1a">170</text>
<line x1="503.15" y1="218" x2="503.15" y2="220.2" stroke="#333" stroke-width="1"/>
<line x1="525.80" y1="218" x2="525.80" y2="222.0" stroke="#333" stroke-width="1"/>
<text x="525.80" y="235.5" font-size="10.4" text-anchor="middle" fill="#1c1a1a">175</text>
<line x1="548.45" y1="218" x2="548.45" y2="220.2" stroke="#333" stroke-width="1"/>
<line x1="571.10" y1="218" x2="571.10" y2="222.0" stroke="#333" stroke-width="1"/>
<text x="571.10" y="235.5" font-size="10.4" text-anchor="middle" fill="#1c1a1a">180</text>
<line x1="593.75" y1="218" x2="593.75" y2="220.2" stroke="#333" stroke-width="1"/>
<line x1="616.40" y1="218" x2="616.40" y2="222.0" stroke="#333" stroke-width="1"/>
<text x="616.40" y="235.5" font-size="10.4" text-anchor="middle" fill="#1c1a1a">185</text>
<line x1="639.05" y1="218" x2="639.05" y2="220.2" stroke="#333" stroke-width="1"/>
<line x1="661.70" y1="218" x2="661.70" y2="222.0" stroke="#333" stroke-width="1"/>
<text x="661.70" y="235.5" font-size="10.4" text-anchor="middle" fill="#1c1a1a">190</text>
<text x="541" y="251.5" font-size="10.65" text-anchor="middle" fill="#1c1a1a">Cutoff edge (nm)</text>
<text transform="translate(351.6,116.5) rotate(-90)" font-size="10.5" text-anchor="middle" fill="#1c1a1a">Birefringence at 266 nm<tspan font-size="8.5" dy="-3.8">*</tspan></text>
<rect x="388.8" y="20" width="1.9" height="198.3" fill="#000080"/>
<rect x="398" y="216.4" width="286" height="1.9" fill="#000080"/>
<path d="M389.8,11 L393.3,22.5 L389.8,20.5 L386.3,22.5Z" fill="#000080"/>
<path d="M387.9,217.5 L400.6,213.6 L399.6,217.5 L400.6,221.4Z" fill="#000080"/>
<path d="M426.10,23.20 L427.11,25.91 L430.00,26.03 L427.74,27.83 L428.51,30.62 L426.10,29.02 L423.69,30.62 L424.46,27.83 L422.20,26.03 L425.09,25.91Z" fill="#ff0a80"/>
<path d="M471.30,25.10 L472.31,27.81 L475.20,27.93 L472.94,29.73 L473.71,32.52 L471.30,30.92 L468.89,32.52 L469.66,29.73 L467.40,27.93 L470.29,27.81Z" fill="#ff0a80"/>
<path d="M553.20,60.60 L557.30,67.20 L549.10,67.20Z" fill="#008000"/>
<path d="M652.90,57.20 L657.00,63.80 L648.80,63.80Z" fill="#008000"/>
<path d="M544.00,84.40 L548.10,91.00 L539.90,91.00Z" fill="#008000"/>
<path d="M525.80,93.40 L529.90,100.00 L521.70,100.00Z" fill="#008000"/>
<path d="M625.70,118.70 L629.80,125.30 L621.60,125.30Z" fill="#008000"/>
<path d="M571.00,146.40 L575.20,150.60 L571.00,154.80 L566.80,150.60Z" fill="#ff8000"/>
<circle cx="580.00" cy="197.40" r="3.4" fill="url(#ball)"/>
<text x="412.4" y="42.6" font-size="10.65" fill="#1c1a1a" text-anchor="start"><tspan>LiBO</tspan><tspan font-size="7.35" dy="3.2">2</tspan></text>
<text x="460.3" y="42.6" font-size="10.65" fill="#1c1a1a" text-anchor="start"><tspan>Ca(BO</tspan><tspan font-size="7.35" dy="3.2">2</tspan><tspan dy="-3.2">)</tspan><tspan font-size="7.35" dy="3.2">2</tspan></text>
<text x="532.9" y="78.6" font-size="10.65" fill="#1c1a1a" text-anchor="start"><tspan>Ba</tspan><tspan font-size="7.35" dy="3.2">2</tspan><tspan dy="-3.2">Ca(B</tspan><tspan font-size="7.35" dy="3.2">3</tspan><tspan dy="-3.2">O</tspan><tspan font-size="7.35" dy="3.2">6</tspan><tspan dy="-3.2">)</tspan><tspan font-size="7.35" dy="3.2">2</tspan></text>
<text x="536.7" y="99.7" font-size="10.65" fill="#1c1a1a" text-anchor="start"><tspan>Ba</tspan><tspan font-size="7.35" dy="3.2">2</tspan><tspan dy="-3.2">Mg(B</tspan><tspan font-size="7.35" dy="3.2">3</tspan><tspan dy="-3.2">O</tspan><tspan font-size="7.35" dy="3.2">6</tspan><tspan dy="-3.2">)</tspan><tspan font-size="7.35" dy="3.2">2</tspan></text>
<text x="492.9" y="113.4" font-size="10.65" fill="#1c1a1a" text-anchor="start"><tspan>Na</tspan><tspan font-size="7.35" dy="3.2">3</tspan><tspan dy="-3.2">Ba</tspan><tspan font-size="7.35" dy="3.2">2</tspan><tspan dy="-3.2">(B</tspan><tspan font-size="7.35" dy="3.2">3</tspan><tspan dy="-3.2">O</tspan><tspan font-size="7.35" dy="3.2">6</tspan><tspan dy="-3.2">)</tspan><tspan font-size="7.35" dy="3.2">2</tspan><tspan dy="-3.2">F</tspan></text>
<text x="600.3" y="136.4" font-size="10.4" fill="#1c1a1a" text-anchor="start"><tspan>Ba</tspan><tspan font-size="7.18" dy="3.2">2</tspan><tspan dy="-3.2">Na</tspan><tspan font-size="7.18" dy="3.2">3</tspan><tspan dy="-3.2">(B</tspan><tspan font-size="7.18" dy="3.2">3</tspan><tspan dy="-3.2">O</tspan><tspan font-size="7.18" dy="3.2">6</tspan><tspan dy="-3.2">)</tspan><tspan font-size="7.18" dy="3.2">2</tspan><tspan dy="-3.2">F</tspan></text>
<text x="550.9" y="163.4" font-size="10.65" fill="#1c1a1a" text-anchor="start"><tspan>Ca</tspan><tspan font-size="7.35" dy="3.2">3</tspan><tspan dy="-3.2">(BO</tspan><tspan font-size="7.35" dy="3.2">3</tspan><tspan dy="-3.2">)</tspan><tspan font-size="7.35" dy="3.2">2</tspan></text>
<text x="585.9" y="201.9" font-size="10.65" fill="#1c1a1a" text-anchor="start"><tspan>Li</tspan><tspan font-size="7.35" dy="3.2">2</tspan><tspan dy="-3.2">Na</tspan><tspan font-size="7.35" dy="3.2">2</tspan><tspan dy="-3.2">B</tspan><tspan font-size="7.35" dy="3.2">2</tspan><tspan dy="-3.2">O</tspan><tspan font-size="7.35" dy="3.2">5</tspan></text>
<text x="637.4" y="76" font-size="11.1" fill="#1c1a1a"><tspan font-family="Liberation Serif, serif" font-size="11">α</tspan>-BBO</text>
<path d="M407.40,153.60 L408.41,156.31 L411.30,156.43 L409.04,158.23 L409.81,161.02 L407.40,159.42 L404.99,161.02 L405.76,158.23 L403.50,156.43 L406.39,156.31Z" fill="#ff0a80"/>
<path d="M407.40,168.10 L411.50,174.70 L403.30,174.70Z" fill="#008000"/>
<path d="M407.40,181.50 L411.30,185.40 L407.40,189.30 L403.50,185.40Z" fill="#ff8000"/>
<circle cx="407.10" cy="198.80" r="3.3" fill="url(#ball)"/>
<text x="417.8" y="162.0" font-size="9.5" fill="#1c1a1a" text-anchor="start"><tspan>[BO</tspan><tspan font-size="6.55" dy="3.2">2</tspan><tspan dy="-3.2">]</tspan><tspan font-size="6.55" dy="-3.5">∞</tspan><tspan dy="3.5">-based crystal</tspan></text>
<text x="417.8" y="175.2" font-size="9.5" fill="#1c1a1a" text-anchor="start"><tspan>[B</tspan><tspan font-size="6.55" dy="3.2">3</tspan><tspan dy="-3.2">O</tspan><tspan font-size="6.55" dy="3.2">6</tspan><tspan dy="-3.2">]-based crystal</tspan></text>
<text x="417.8" y="189.2" font-size="9.5" fill="#1c1a1a" text-anchor="start"><tspan>[BO</tspan><tspan font-size="6.55" dy="3.2">3</tspan><tspan dy="-3.2">]-based crystal</tspan></text>
<text x="417.8" y="201.9" font-size="9.5" fill="#1c1a1a" text-anchor="start"><tspan>[B</tspan><tspan font-size="6.55" dy="3.2">2</tspan><tspan dy="-3.2">O</tspan><tspan font-size="6.55" dy="3.2">5</tspan><tspan dy="-3.2">]-based crystal</tspan></text>
</svg></body></html>
